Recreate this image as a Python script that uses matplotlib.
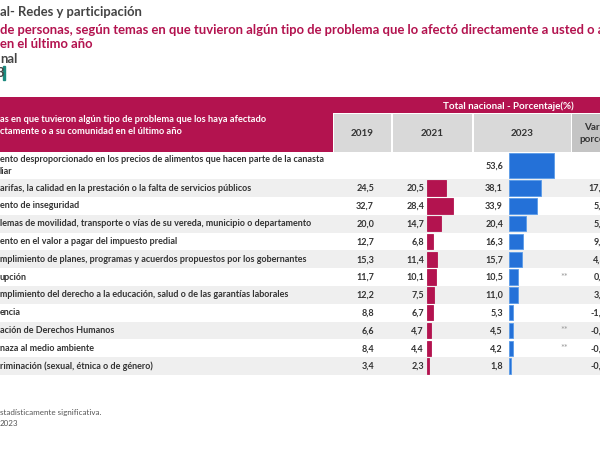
import matplotlib.pyplot as plt
from matplotlib.patches import Rectangle
import numpy as np

plt.rcParams['font.family'] = ['Lato', 'DejaVu Sans']

labels = [
    "ento desproporcionado en los precios de alimentos que hacen parte de la canasta\nliar",
    "arifas, la calidad en la prestación o la falta de servicios públicos",
    "ento de inseguridad",
    "lemas de movilidad, transporte o vías de su vereda, municipio o departamento",
    "ento en el valor a pagar del impuesto predial",
    "mplimiento de planes, programas y acuerdos propuestos por los gobernantes",
    "upción",
    "mplimiento del derecho a la educación, salud o de las garantías laborales",
    "encia",
    "ación de Derechos Humanos",
    "naza al medio ambiente",
    "riminación (sexual, étnica o de género)",
]
v2019 = [None, 24.5, 32.7, 20.0, 12.7, 15.3, 11.7, 12.2, 8.8, 6.6, 8.4, 3.4]
v2021 = [None, 20.5, 28.4, 14.7, 6.8, 11.4, 10.1, 7.5, 6.7, 4.7, 4.4, 2.3]
v2023 = [53.6, 38.1, 33.9, 20.4, 16.3, 15.7, 10.5, 11.0, 5.3, 4.5, 4.2, 1.8]
variacion = [None, 17.6, 5.5, 5.7, 9.5, 4.3, 0.4, 3.5, -1.4, -0.2, -0.2, -0.5]
no_signif = [False, False, False, False, False, False, True, False, False, True, True, False]
years = ["2019", "2021", "2023"]

MAGENTA = "#b3134f"
BLUE = "#2471d8"
DARK = "#333333"

W, H = 600, 450
fig = plt.figure(figsize=(6, 4.5), dpi=100)
ax = fig.add_axes([0, 0, 1, 1])
ax.set_xlim(0, W)
ax.set_ylim(H, 0)
ax.axis('off')

FS = 6.5      # table body
FT = 9.4      # titles


def fmt(v):
    return "" if v is None else f"{v:.1f}".replace(".", ",")


# titles
ax.text(0, 12, "al- Redes y participación", fontsize=FT, fontweight='bold', color="#444444", va='center')
ax.text(0, 30, "de personas, según temas en que tuvieron algún tipo de problema que lo afectó directamente a usted o a",
        fontsize=FT, fontweight='bold', color=MAGENTA, va='center')
ax.text(0, 44, "en el último año", fontsize=FT, fontweight='bold', color=MAGENTA, va='center')
ax.text(0, 59, "nal", fontsize=FT, fontweight='bold', color="#444444", va='center')
ax.text(-3.5, 73, "3", fontsize=FT, fontweight='bold', color="#444444", va='center')
ax.add_patch(Rectangle((3, 66), 2, 14, color="#1b8a7e"))

# header
ax.add_patch(Rectangle((0, 97), W, 16, color=MAGENTA, lw=0))
ax.add_patch(Rectangle((0, 97), 333, 55, color=MAGENTA, lw=0))
ax.text(508, 106, "Total nacional - Porcentaje(%)", fontsize=7.1, fontweight='bold', color='white',
        ha='center', va='center')
ax.text(0, 120, "as en que tuvieron algún tipo de problema que los haya afectado", fontsize=FS + 0.2,
        fontweight='bold', color='white', va='center')
ax.text(0, 131.5, "ctamente o a su comunidad en el último año", fontsize=FS + 0.2,
        fontweight='bold', color='white', va='center')
cells = [(334, 391), (393, 472), (474, 571)]
for (x0, x1), yr in zip(cells, years):
    ax.add_patch(Rectangle((x0, 114), x1 - x0, 38, color="#d9d9d9", lw=0))
    ax.text((x0 + x1) / 2, 133.5, yr, fontsize=7.1, fontweight='bold', color=DARK, ha='center', va='center')
ax.add_patch(Rectangle((572, 114), 40, 38, color="#c4c4c4", lw=0))
ax.text(605, 128, "Variación", fontsize=7.1, fontweight='bold', color=DARK, ha='center', va='center')
ax.text(603, 139.5, "porcentual", fontsize=7.1, fontweight='bold', color=DARK, ha='center', va='center')

# row layout
row_top = [152] + [179.2 + 17.8 * (i - 1) for i in range(1, len(labels))]
row_h = [27.2] + [17.8] * (len(labels) - 1)
centers = [t + h / 2 for t, h in zip(row_top, row_h)]

for i, lab in enumerate(labels):
    if i % 2 == 1:
        ax.add_patch(Rectangle((0, row_top[i]), W, row_h[i], color="#efefef", lw=0))
    if i == 0:
        ax.text(0, 160, lab.split("\n")[0], fontsize=FS, fontweight='bold', color=DARK, va='center')
        ax.text(0, 172, lab.split("\n")[1], fontsize=FS, fontweight='bold', color=DARK, va='center')
    else:
        ax.text(0, centers[i], lab, fontsize=FS, fontweight='bold', color=DARK, va='center')
    yc = centers[i] + 0.5
    ax.text(374, yc, fmt(v2019[i]), fontsize=FS, fontweight='bold', color=DARK, ha='right', va='center')
    ax.text(424, yc, fmt(v2021[i]), fontsize=FS, fontweight='bold', color=DARK, ha='right', va='center')
    ax.text(503, yc, fmt(v2023[i]), fontsize=FS, fontweight='bold', color=DARK, ha='right', va='center')
    if no_signif[i]:
        ax.text(564, yc - 0.5, "**", fontsize=6.5, color="#999999", ha='center', va='center')
    ax.text(606, yc, fmt(variacion[i]), fontsize=FS, fontweight='bold', color=DARK, ha='right', va='center')

# footer
ax.text(0, 412, "stadísticamente significativa.", fontsize=5.8, color="#555555", va='center')
ax.text(0, 423, "2023", fontsize=5.8, color="#555555", va='center')

# bar columns (x in percent, y in pixel rows)
heights = [h - 2.5 for h in row_h]


def bar_axes(x0, px_per_unit, values, color, edge):
    width_px = 70
    bax = fig.add_axes([x0 / W, 0, width_px / W, 1])
    bax.set_xlim(0, width_px / px_per_unit)
    bax.set_ylim(H, 0)
    bax.axis('off')
    bax.patch.set_alpha(0)
    ys = [c for c, v in zip(centers, values) if v is not None]
    vs = [v for v in values if v is not None]
    hs = [h for h, v in zip(heights, values) if v is not None]
    bax.barh(ys, vs, height=hs, color=color, edgecolor=edge, lw=0.6)
    return bax


bar_axes(427, 0.92, v2021, MAGENTA, MAGENTA)
bar_axes(509, 0.84, v2023, BLUE, "#5a9be8")

fig.savefig("out.png", dpi=100)
